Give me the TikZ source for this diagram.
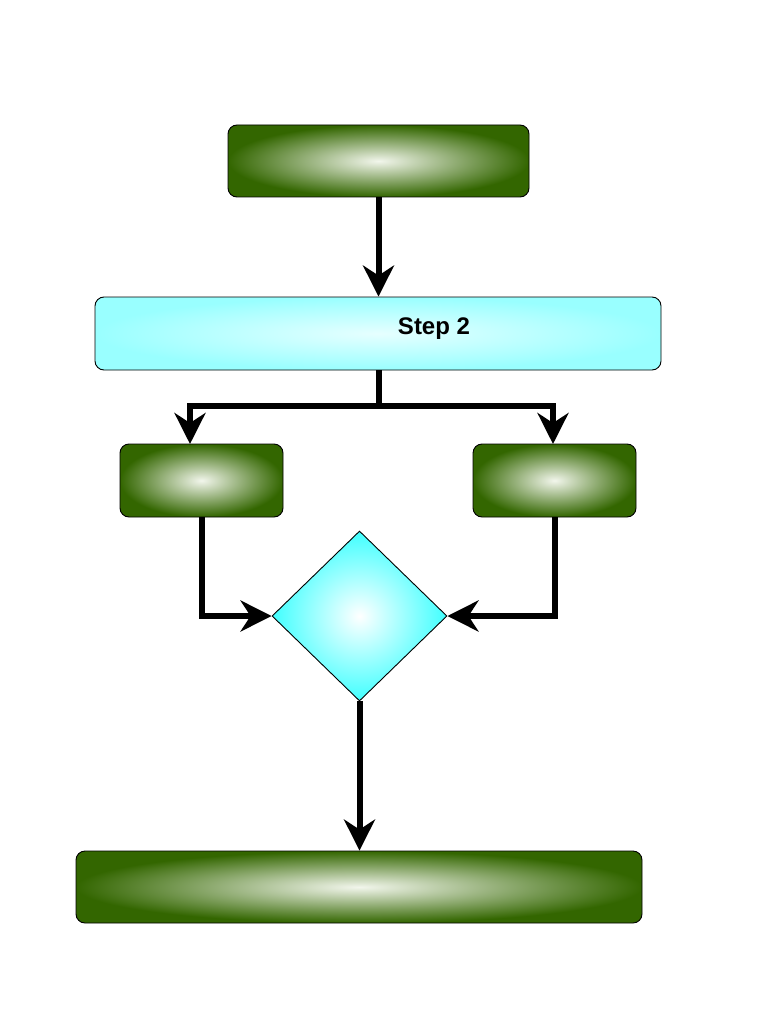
\documentclass[tikz,border=0pt]{standalone}
\usepackage{fontspec}
\setmainfont{Liberation Sans}
\usetikzlibrary{shapes.geometric,arrows.meta}
\definecolor{dgreen}{HTML}{336600}
\definecolor{lgreen}{HTML}{F2F6EC}
\definecolor{cyanedge}{HTML}{99FFFF}
\definecolor{cyanmid}{HTML}{E6FFFF}
\definecolor{diaedge}{HTML}{40FFFF}
\tikzset{
  greenbox/.style={draw=black, line width=0.9pt, rounded corners=9pt, inner sep=0pt,
    inner color=lgreen, outer color=dgreen},
  cyanbox/.style={draw=black, line width=0.9pt, rounded corners=9pt, inner sep=0pt,
    inner color=cyanmid, outer color=cyanedge},
  diabox/.style={draw=black, line width=0.9pt, diamond, inner sep=0pt,
    inner color=white, outer color=diaedge},
  conn/.style={line width=6pt, -{Stealth[length=31pt,width=31pt,inset=10pt]}},
  lbl/.style={font=\bfseries\fontsize{24}{28}\selectfont, inner sep=0pt}
}
\begin{document}
\begin{tikzpicture}[x=1pt,y=-1pt]
\useasboundingbox (0,0) rectangle (768,1024);
\node[greenbox, minimum width=301pt, minimum height=72pt] (top) at (378.5,161) {};
\node[cyanbox, minimum width=566pt, minimum height=73pt] (step) at (378,333.5) {};
\node[lbl] (steptext) at (434,328.5) {Step 2};
\node[greenbox, minimum width=163pt, minimum height=73pt] (left) at (201.5,480.5) {};
\node[greenbox, minimum width=163pt, minimum height=73pt] (right) at (554.5,480.5) {};
\node[diabox, minimum width=175pt, minimum height=170pt, aspect=1.03] (dec) at (359.5,616) {};
\node[greenbox, minimum width=566pt, minimum height=72pt] (bot) at (359,887) {};
\coordinate (lt) at (190,444);
\coordinate (rt) at (553,444);
\draw[conn] (top.south) -- (step.north -| top.south);
\draw[conn] (step.south -| top.south) |- (190,406) -- (lt);
\draw[conn] (step.south -| top.south) |- (553,406) -- (rt);
\draw[conn] (left.south) |- (dec.west);
\draw[conn] (right.south) |- (dec.east);
\draw[conn] (dec.south) -- (bot.north -| dec.south);
\end{tikzpicture}
\end{document}
